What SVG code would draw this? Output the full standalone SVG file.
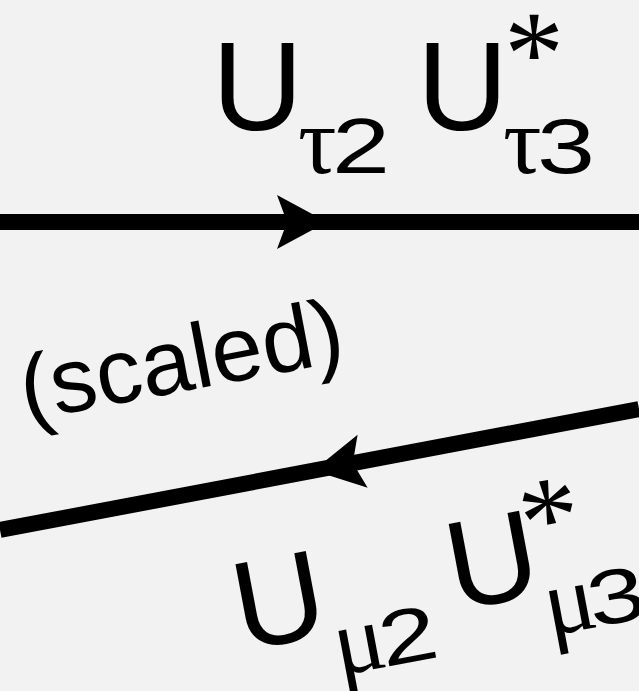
<svg xmlns="http://www.w3.org/2000/svg" xmlns:xlink="http://www.w3.org/1999/xlink" width="639" height="691" viewBox="0 0 639 691">
<style>
.sans{font-family:"Liberation Sans",Arial,sans-serif;fill:#000}
.lbl{font-family:"Liberation Sans",Arial,sans-serif;font-size:126px;fill:#000}
.greek{font-family:"Liberation Serif","Times New Roman",serif;font-size:96px}
.dig{font-family:"Liberation Sans",Arial,sans-serif;font-size:77px}
.star{font-family:"Liberation Serif","Times New Roman",serif;font-size:120px}
.wire{stroke:#000;stroke-width:16;fill:none}
</style>
<defs>
<path id="arrowhead" d="M0,0 L-50,-27 L-40,0 L-50,27 Z" fill="#000"/>
</defs>
<rect x="0" y="0" width="639" height="691" fill="#f2f2f2"/>
<g id="connectors">
<line class="wire" x1="0" y1="222" x2="639" y2="222"/>
<use xlink:href="#arrowhead" transform="translate(327,222)"/>
<line class="wire" x1="0" y1="530" x2="639" y2="409"/>
<use xlink:href="#arrowhead" transform="translate(313.5,470.5) rotate(169.28)"/>
</g>
<g id="label-top" transform="translate(212,130)">
<text class="lbl"><tspan x="0" y="0">U</tspan><tspan class="greek" x="86" y="43">τ</tspan><tspan class="dig" x="120" y="43" textLength="58" lengthAdjust="spacingAndGlyphs">2</tspan><tspan x="205" y="0">U</tspan><tspan class="star" x="292" y="-36">*</tspan><tspan class="greek" x="291" y="43">τ</tspan><tspan class="dig" x="325" y="43" textLength="58" lengthAdjust="spacingAndGlyphs">3</tspan></text>
</g>
<g id="label-scaled">
<text class="sans" font-size="92" x="26" y="421" transform="rotate(-10.7 26 421)">(scaled)</text>
</g>
<g id="label-bottom" transform="translate(241.9,651.3) rotate(-10.7)">
<text class="lbl"><tspan x="0" y="0">U</tspan><tspan class="greek" x="91" y="42">μ</tspan><tspan class="dig" x="137" y="42" textLength="58" lengthAdjust="spacingAndGlyphs">2</tspan><tspan x="217" y="0">U</tspan><tspan class="star" x="298" y="-33">*</tspan><tspan class="greek" x="305" y="42">μ</tspan><tspan class="dig" x="349" y="42" textLength="58" lengthAdjust="spacingAndGlyphs">3</tspan></text>
</g>
</svg>
